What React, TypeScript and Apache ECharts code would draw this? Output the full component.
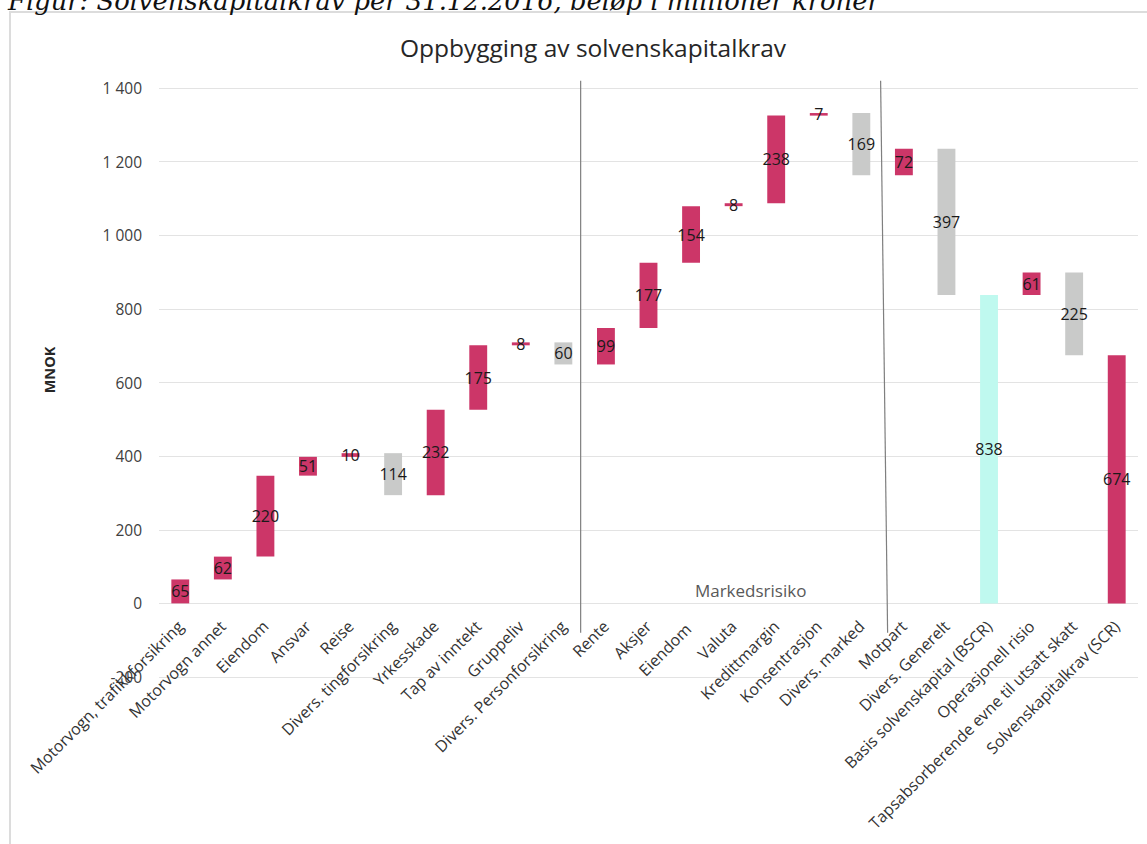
import React, { useEffect, useRef } from "react";
import * as echarts from "echarts";

const categories = [
  "Motorvogn, trafikkforsikring",
  "Motorvogn annet",
  "Eiendom",
  "Ansvar",
  "Reise",
  "Divers. tingforsikring",
  "Yrkesskade",
  "Tap av inntekt",
  "Gruppeliv",
  "Divers. Personforsikring",
  "Rente",
  "Aksjer",
  "Eiendom ",
  "Valuta",
  "Kredittmargin",
  "Konsentrasjon",
  "Divers. marked",
  "Motpart",
  "Divers. Generelt",
  "Basis solvenskapital (BSCR)",
  "Operasjonell risio",
  "Tapsabsorberende evne til utsatt skatt",
  "Solvenskapitalkrav (SCR)",
];

const values = [65, 62, 220, 51, 10, 114, 232, 175, 8, 60, 99, 177, 154, 8, 238, 7, 169, 72, 397, 838, 61, 225, 674];

// up = increase, down = diversification (decrease), total = subtotal from 0, final = final total from 0
const kinds = [
  "up", "up", "up", "up", "up", "down", "up", "up", "up", "down",
  "up", "up", "up", "up", "up", "up", "down",
  "up", "down", "total", "up", "down", "final",
];

const yTicks = { min: -200, max: 1400, interval: 200 };

const COLORS: Record<string, string> = {
  up: "#CC3668",
  down: "#C9CAC9",
  total: "#BFF9EF",
  final: "#CC3668",
};

function buildWaterfall() {
  const bases: number[] = [];
  const heights: any[] = [];
  let running = 0;
  values.forEach((v, i) => {
    const k = kinds[i];
    let base = 0;
    if (k === "up") {
      base = running;
      running += v;
    } else if (k === "down") {
      running -= v;
      base = running;
    } else {
      base = 0;
      running = v;
    }
    bases.push(base);
    heights.push({ value: v, itemStyle: { color: COLORS[k] } });
  });
  return { bases, heights };
}

function fmt(n: number) {
  const s = String(Math.abs(n));
  const out = s.replace(/\B(?=(\d{3})+(?!\d))/g, " ");
  return (n < 0 ? "-" : "") + out;
}

export default function App() {
  const ref = useRef<HTMLDivElement>(null);
  useEffect(() => {
    document.body.style.margin = "0";
    if (!ref.current) return;
    const chart = echarts.init(ref.current, undefined, { renderer: "svg" });
    const { bases, heights } = buildWaterfall();
    const font = "Open Sans";
    chart.setOption({
      animation: false,
      backgroundColor: "#ffffff",
      title: {
        text: "Oppbygging av solvenskapitalkrav",
        left: 588,
        top: 30,
        textAlign: "center",
        textStyle: { fontFamily: font, fontSize: 24.5, fontWeight: "normal", color: "#262626" },
      },
      grid: { left: 159, right: 9, top: 88, bottom: 167, containLabel: false, outerBoundsMode: "none" },
      xAxis: {
        type: "category",
        data: categories,
        axisLine: { show: false, onZero: false },
        axisTick: { show: false },
        axisLabel: {
          interval: 0,
          rotate: 45,
          margin: 20,
          fontFamily: font,
          fontSize: 16,
          color: "#333333",
        },
      },
      yAxis: {
        type: "value",
        min: yTicks.min,
        max: yTicks.max,
        interval: yTicks.interval,
        axisLine: { show: false },
        axisTick: { show: false },
        splitLine: { lineStyle: { color: "#e3e3e3", width: 1 } },
        axisLabel: {
          fontFamily: font,
          fontSize: 15.5,
          color: "#404040",
          margin: 17,
          formatter: (v: number) => fmt(v),
        },
      },
      series: [
        {
          type: "bar",
          stack: "w",
          barWidth: "42%",
          silent: true,
          itemStyle: { color: "transparent" },
          data: bases,
        },
        {
          type: "bar",
          stack: "w",
          barWidth: "42%",
          data: heights,
          label: {
            show: true,
            position: "inside",
            fontFamily: font,
            fontSize: 16,
            color: "#1a1a1a",
            formatter: "{c}",
          },
        },
      ],
    });

    const px = (cat: number, val: number) =>
      chart.convertToPixel({ xAxisIndex: 0, yAxisIndex: 0 }, [cat, val]) as number[];
    const y0 = px(0, 0)[1];
    const yMin = px(0, yTicks.min)[1];
    const a9 = px(9, 0), a10 = px(10, 0), a16 = px(16, 0), a17 = px(17, 0);
    const m1 = (a9[0] + a10[0]) / 2 - 4;
    const m2 = (a16[0] + a17[0]) / 2;
    const yTop = px(0, 1420)[1];
    const yBot = px(0, -80)[1];
    const p13 = px(13, 35), p14 = px(14, 35);
    const mx = p13[0] + 0.4 * (p14[0] - p13[0]);

    chart.setOption({
      xAxis: { offset: -(yMin - y0) },
      graphic: [
        {
          type: "rect",
          shape: { x: 10, y: 12, width: 1200, height: 900 },
          style: { fill: "none", stroke: "#dcdcdc", lineWidth: 2 },
          silent: true,
        },
        {
          type: "text",
          x: 8,
          y: 14,
          style: {
            text: "Figur: Solvenskapitalkrav per 31.12.2016, beløp i millioner kroner",
            fontFamily: "DejaVu Serif",
            fontStyle: "italic",
            fontSize: 25.8,
            fill: "#111",
            align: "left",
            verticalAlign: "bottom",
          },
        },
        {
          type: "line",
          shape: { x1: m1, y1: yTop, x2: m1, y2: yBot },
          style: { stroke: "#7f7f7f", lineWidth: 1.2 },
          silent: true,
        },
        {
          type: "line",
          shape: { x1: m2 - 2, y1: yTop, x2: m2 + 5, y2: yBot },
          style: { stroke: "#7f7f7f", lineWidth: 1.2 },
          silent: true,
        },
        {
          type: "text",
          x: mx,
          y: p13[1],
          style: {
            text: "Markedsrisiko",
            fontFamily: font,
            fontSize: 17,
            fill: "#595959",
            align: "center",
            verticalAlign: "middle",
          },
        },
        {
          type: "text",
          x: 49,
          y: 370,
          rotation: Math.PI / 2,
          style: {
            text: "MNOK",
            fontFamily: font,
            fontSize: 14.5,
            fontWeight: "bold",
            fill: "#262626",
            align: "center",
            verticalAlign: "middle",
          },
        },
      ],
    });

    return () => chart.dispose();
  }, []);
  return <div ref={ref} style={{ width: 1147, height: 844 }} />;
}
